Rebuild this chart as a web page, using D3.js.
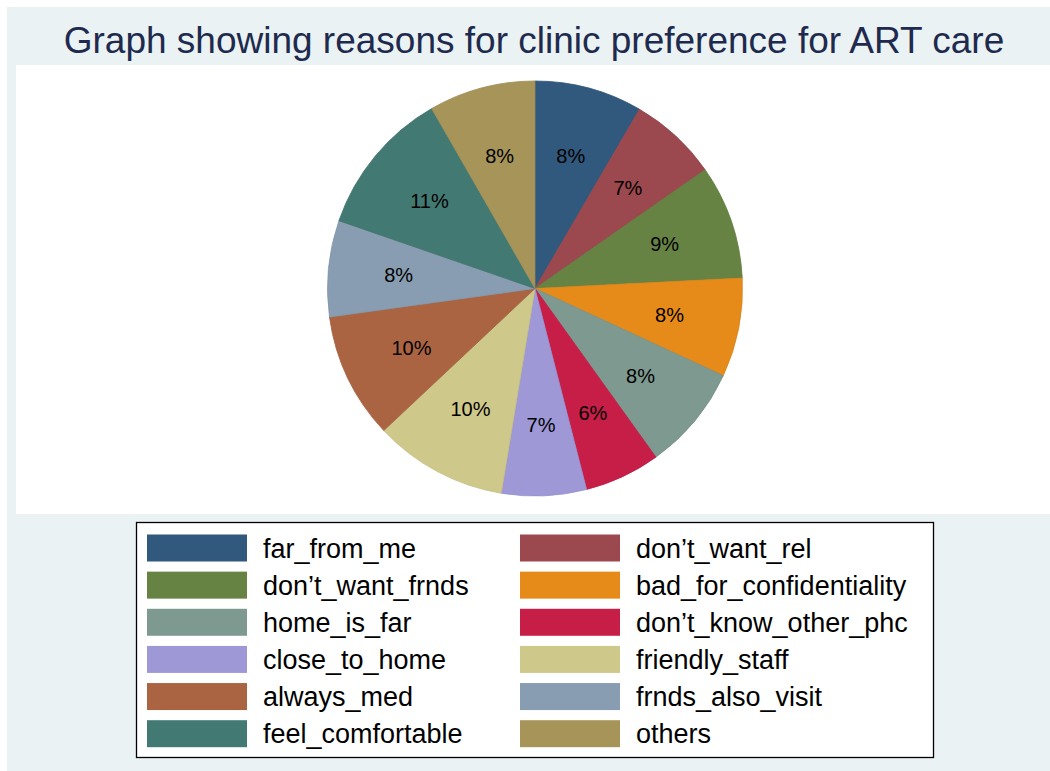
<!DOCTYPE html>
<html>
<head>
<meta charset="utf-8">
<script src="https://cdnjs.cloudflare.com/ajax/libs/d3/7.8.5/d3.min.js"></script>
<style>
  body { margin: 0; background: #fff; }
  text { font-family: "Liberation Sans", Arial, Helvetica, sans-serif; }
</style>
</head>
<body>
<div id="chart"></div>
<script>
const width = 1050;
const height = 771;

// reasons, in the order Stata draws them (clockwise from 12 o'clock)
const reasons = ["far_from_me", "don\u2019t_want_rel", "don\u2019t_want_frnds", "bad_for_confidentiality",
  "home_is_far", "don\u2019t_know_other_phc", "close_to_home", "friendly_staff",
  "always_med", "frnds_also_visit", "feel_comfortable", "others"];
// shares in percent
const shares = [8.4, 6.9, 8.9, 7.7, 8.2, 5.9, 6.6, 10.4, 9.8, 7.5, 11.4, 8.3];
const colors = ["#31597d", "#9b494f", "#668344", "#e68b1a", "#7d9990", "#c71e48",
  "#9e98d7", "#cfc88b", "#aa6442", "#889db1", "#427972", "#a69459"];

const svg = d3.select("#chart")
  .append("svg")
  .attr("width", width)
  .attr("height", height);

// graph region (light bluish gray) and plot region (white)
svg.append("rect")
  .attr("x", 7).attr("y", 7)
  .attr("width", width - 7).attr("height", height - 7)
  .attr("fill", "#eaf2f3");
svg.append("rect")
  .attr("x", 16).attr("y", 65)
  .attr("width", width - 16).attr("height", 449)
  .attr("fill", "#ffffff");

svg.append("text")
  .attr("x", 534)
  .attr("y", 53)
  .attr("text-anchor", "middle")
  .attr("fill", "#1e2a4e")
  .style("font-size", "37px")
  .text("Graph showing reasons for clinic preference for ART care");

const cx = 535, cy = 288.5, radius = 207.5;

const pie = d3.pie().sort(null).value(d => d);
const arcs = pie(shares);
const arc = d3.arc().innerRadius(0).outerRadius(radius);
const labelArc = d3.arc().innerRadius(137).outerRadius(137);

const g = svg.append("g").attr("transform", "translate(" + cx + "," + cy + ")");

g.selectAll("path")
  .data(arcs)
  .enter()
  .append("path")
  .attr("d", arc)
  .attr("fill", (d, i) => colors[i])
  .attr("stroke", (d, i) => d3.color(colors[i]).darker(0.15))
  .attr("stroke-width", 0.8);

g.selectAll("text.plabel")
  .data(arcs)
  .enter()
  .append("text")
  .attr("class", "plabel")
  .attr("transform", d => "translate(" + labelArc.centroid(d) + ")")
  .attr("text-anchor", "middle")
  .attr("dy", "0.35em")
  .style("font-size", "20px")
  .attr("fill", "#000")
  .text(d => Math.round(d.data) + "%");

// legend
svg.append("rect")
  .attr("x", 136.5).attr("y", 522.5)
  .attr("width", 797).attr("height", 235)
  .attr("fill", "#fff")
  .attr("stroke", "#000")
  .attr("stroke-width", 1.3);

const rowY = d3.scaleLinear().domain([0, 5]).range([548, 733.7]);
const colX = [147, 520];

const items = svg.selectAll("g.item")
  .data(reasons)
  .enter()
  .append("g")
  .attr("class", "item")
  .attr("transform", (d, i) => "translate(" + colX[i % 2] + "," + rowY(Math.floor(i / 2)) + ")");

items.append("rect")
  .attr("x", 0).attr("y", -13.5)
  .attr("width", 100).attr("height", 27)
  .attr("fill", (d, i) => colors[i]);

items.append("text")
  .attr("x", 116)
  .attr("dy", "0.36em")
  .style("font-size", "27px")
  .attr("fill", "#000")
  .text(d => d);
</script>
</body>
</html>
